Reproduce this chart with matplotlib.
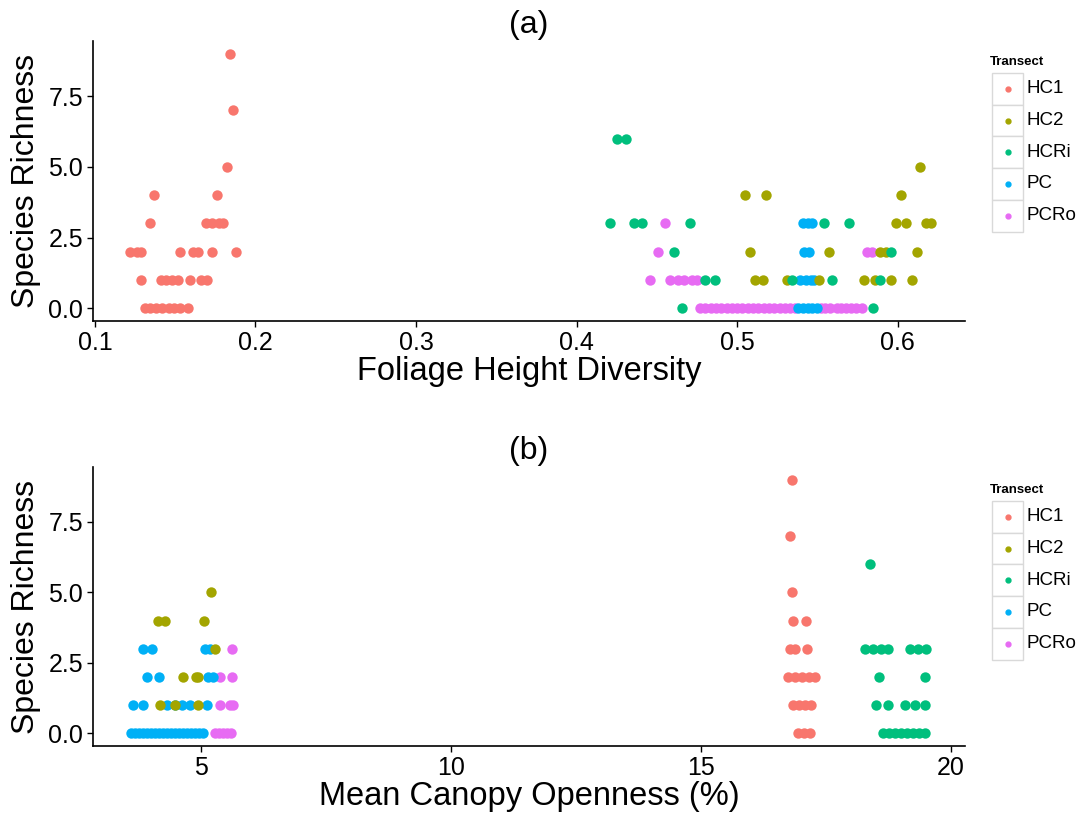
import matplotlib.pyplot as plt
from matplotlib.patches import Rectangle
from matplotlib.lines import Line2D

plt.rcParams['font.family'] = ['Liberation Sans', 'DejaVu Sans']

transects = ['HC1', 'HC2', 'HCRi', 'PC', 'PCRo']
colors = {'HC1': '#F8766D', 'HC2': '#A3A500', 'HCRi': '#00BF7D',
          'PC': '#00B0F6', 'PCRo': '#E76BF3'}

# ---- panel (a): foliage height diversity ----
fhd_hc1_x = [0.184, 0.186, 0.182, 0.137, 0.176,
             0.134, 0.169, 0.173, 0.177, 0.180,
             0.122, 0.126, 0.129, 0.153, 0.161, 0.164, 0.173, 0.188,
             0.129, 0.141, 0.144, 0.148, 0.152, 0.159, 0.166, 0.170,
             0.131, 0.134, 0.138, 0.142, 0.146, 0.149, 0.153, 0.158]
fhd_hc1_y = [9, 7, 5, 4, 4,
             3, 3, 3, 3, 3,
             2, 2, 2, 2, 2, 2, 2, 2,
             1, 1, 1, 1, 1, 1, 1, 1,
             0, 0, 0, 0, 0, 0, 0, 0]

fhd_hc2_x = [0.614, 0.505, 0.518, 0.602,
             0.599, 0.605, 0.618, 0.621,
             0.508, 0.557, 0.589, 0.593, 0.612,
             0.511, 0.516, 0.531, 0.551, 0.579, 0.586, 0.596, 0.609]
fhd_hc2_y = [5, 4, 4, 4,
             3, 3, 3, 3,
             2, 2, 2, 2, 2,
             1, 1, 1, 1, 1, 1, 1, 1]

fhd_hcri_x = [0.425, 0.431,
              0.421, 0.436, 0.441, 0.471, 0.554, 0.570,
              0.461, 0.596,
              0.480, 0.486, 0.534, 0.559, 0.589,
              0.466, 0.585]
fhd_hcri_y = [6, 6,
              3, 3, 3, 3, 3, 3,
              2, 2,
              1, 1, 1, 1, 1,
              0, 0]

fhd_pc_x = [0.541, 0.544, 0.547,
            0.542, 0.545,
            0.539, 0.543, 0.546, 0.548,
            0.538, 0.541, 0.544, 0.547, 0.550]
fhd_pc_y = [3, 3, 3,
            2, 2,
            1, 1, 1, 1,
            0, 0, 0, 0, 0]

fhd_pcro_x = [0.455,
              0.451, 0.581, 0.584,
              0.446, 0.458, 0.463, 0.467, 0.472, 0.475,
              0.477, 0.480, 0.484, 0.487, 0.490, 0.494, 0.497, 0.500,
              0.503, 0.507, 0.510, 0.513, 0.517, 0.520, 0.523, 0.527,
              0.530, 0.533, 0.536, 0.552, 0.555, 0.558, 0.562, 0.565,
              0.568, 0.571, 0.574, 0.578]
fhd_pcro_y = [3,
              2, 2, 2,
              1, 1, 1, 1, 1, 1,
              0, 0, 0, 0, 0, 0, 0, 0,
              0, 0, 0, 0, 0, 0, 0, 0,
              0, 0, 0, 0, 0, 0, 0, 0,
              0, 0, 0, 0]

# ---- panel (b): mean canopy openness ----
mco_hc1_x = [16.83, 16.79, 16.83, 16.85, 17.11,
             16.79, 16.89, 17.13,
             16.75, 16.89, 17.03, 17.17, 17.29,
             16.85, 16.97, 17.09, 17.21,
             16.95, 17.07, 17.19]
mco_hc1_y = [9, 7, 5, 4, 4,
             3, 3, 3,
             2, 2, 2, 2, 2,
             1, 1, 1, 1,
             0, 0, 0]

mco_hc2_x = [5.20, 4.14, 4.28, 5.06, 5.28,
             4.64, 4.90, 4.94,
             4.18, 4.48, 4.94]
mco_hc2_y = [5, 4, 4, 4, 3,
             2, 2, 2,
             1, 1, 1]

mco_hcri_x = [18.39,
              18.29, 18.45, 18.61, 18.74, 19.18, 19.34, 19.50,
              18.57, 19.48,
              18.51, 18.74, 19.08, 19.28, 19.48,
              18.64, 18.76, 18.88, 19.00, 19.12, 19.24, 19.36, 19.48]
mco_hcri_y = [6,
              3, 3, 3, 3, 3, 3, 3,
              2, 2,
              1, 1, 1, 1, 1,
              0, 0, 0, 0, 0, 0, 0, 0]

mco_pc_x = [3.84, 4.02, 5.08, 5.18,
            3.92, 4.16, 5.14, 5.24,
            3.64, 3.84, 4.32, 4.48, 4.62, 4.78, 5.12,
            3.60, 3.68, 3.76, 3.84, 3.92, 4.00, 4.08, 4.16, 4.24, 4.32,
            4.40, 4.48, 4.56, 4.64, 4.72, 4.80, 4.88, 4.96, 5.04]
mco_pc_y = [3, 3, 3, 3,
            2, 2, 2, 2,
            1, 1, 1, 1, 1, 1, 1,
            0, 0, 0, 0, 0, 0, 0, 0, 0, 0,
            0, 0, 0, 0, 0, 0, 0, 0, 0]

mco_pcro_x = [5.62, 5.38, 5.62, 5.38, 5.58, 5.64,
              5.28, 5.36, 5.44, 5.52, 5.60]
mco_pcro_y = [3, 2, 2, 1, 1, 1,
              0, 0, 0, 0, 0]

W, H = 1083, 818
fig = plt.figure(figsize=(W / 100, H / 100), dpi=100)


def style_axes(ax):
    for s in ['top', 'right']:
        ax.spines[s].set_visible(False)
    for s in ['left', 'bottom']:
        ax.spines[s].set_linewidth(1.2)
        ax.spines[s].set_color('black')
    ax.tick_params(length=4, width=1, colors='black', labelsize=18, pad=3)
    ax.set_ylim(-0.45, 9.45)
    ax.set_yticks([0, 2.5, 5, 7.5])
    ax.set_yticklabels(['0.0', '2.5', '5.0', '7.5'])
    ax.set_ylabel('Species Richness', fontsize=23, labelpad=5)


def draw_legend(top_px):
    fig.text(990 / W, 1 - top_px / H, 'Transect', fontsize=9.5,
             fontweight='bold', va='center', ha='left')
    key = 31.7
    for i, name in enumerate(transects):
        y0 = top_px + 11 + i * key
        fig.add_artist(Rectangle((992 / W, 1 - (y0 + key) / H), 31 / W, key / H,
                                 transform=fig.transFigure, facecolor='white',
                                 edgecolor='#d9d9d9', lw=1))
        fig.add_artist(Line2D([1007.5 / W], [1 - (y0 + key / 2) / H], marker='o',
                              ms=3.5, color=colors[name], transform=fig.transFigure))
        fig.text(1027 / W, 1 - (y0 + key / 2) / H, name, fontsize=13.5, va='center')


ms = 56

# panel (a)
ax1 = fig.add_axes([93 / W, 1 - 321 / H, 872 / W, 280 / H])
ax1.scatter(fhd_hc1_x, fhd_hc1_y, s=ms, color=colors['HC1'], lw=0)
ax1.scatter(fhd_pcro_x, fhd_pcro_y, s=ms, color=colors['PCRo'], lw=0)
ax1.scatter(fhd_pc_x, fhd_pc_y, s=ms, color=colors['PC'], lw=0)
ax1.scatter(fhd_hc2_x, fhd_hc2_y, s=ms, color=colors['HC2'], lw=0)
ax1.scatter(fhd_hcri_x, fhd_hcri_y, s=ms, color=colors['HCRi'], lw=0)
style_axes(ax1)
ax1.set_xlim(0.0988, 0.642)
ax1.set_xticks([0.1, 0.2, 0.3, 0.4, 0.5, 0.6])
ax1.set_xticklabels(['0.1', '0.2', '0.3', '0.4', '0.5', '0.6'])
ax1.set_xlabel('Foliage Height Diversity', fontsize=23.5, labelpad=1)
ax1.set_title('(a)', fontsize=23, pad=6)
draw_legend(62)

# panel (b)
ax2 = fig.add_axes([93 / W, 1 - 746 / H, 872 / W, 279 / H])
ax2.scatter(mco_hc1_x, mco_hc1_y, s=ms, color=colors['HC1'], lw=0)
ax2.scatter(mco_pcro_x, mco_pcro_y, s=ms, color=colors['PCRo'], lw=0)
ax2.scatter(mco_pc_x, mco_pc_y, s=ms, color=colors['PC'], lw=0)
ax2.scatter(mco_hc2_x, mco_hc2_y, s=ms, color=colors['HC2'], lw=0)
ax2.scatter(mco_hcri_x, mco_hcri_y, s=ms, color=colors['HCRi'], lw=0)
style_axes(ax2)
ax2.set_xlim(2.85, 20.28)
ax2.set_xticks([5, 10, 15, 20])
ax2.set_xlabel('Mean Canopy Openness (%)', fontsize=23.5, labelpad=1)
ax2.set_title('(b)', fontsize=23, pad=6)
draw_legend(490)

fig.savefig('out.png', dpi=100)
